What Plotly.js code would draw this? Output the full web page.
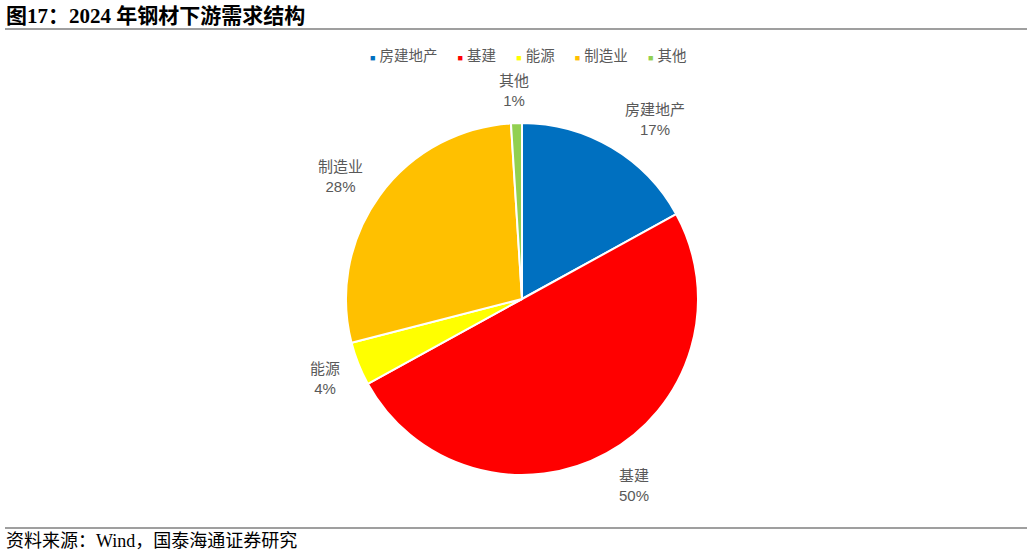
<!DOCTYPE html>
<html>
<head>
<meta charset="utf-8">
<script src="https://cdn.plot.ly/plotly-3.0.1.min.js"></script>
<style>html,body{margin:0;padding:0;background:#fff;}#chart{width:1032px;height:555px;}</style>
</head>
<body>
<div id="chart"></div>
<script>
const categories = ['房建地产', '基建', '能源', '制造业', '其他'];
const shares = [17, 50, 4, 28, 1];
const sliceColors = ['#0070C0', '#FF0000', '#FFFF00', '#FFC000', '#92D050'];
const chartTitle = '图17：2024 年钢材下游需求结构';
const sourceNote = '资料来源：Wind，国泰海通证券研究';

const W = 1032, H = 555;
const cx = 522, cy = 299, R = 176;

const total = shares.reduce((a, b) => a + b, 0);
const labelFont = {family: 'Liberation Sans, Noto Sans CJK SC, sans-serif', size: 15, color: '#595959'};
const clamp = v => Math.max(-1, Math.min(1, v));

// data label positions derived from each slice's mid-angle
const annotations = [];
let cum = 0;
shares.forEach((v, i) => {
  const mid = (cum + v / 2) / total * 2 * Math.PI;
  cum += v;
  const sx = Math.sin(mid), sy = -Math.cos(mid); // screen coords (y down)
  const w = categories[i].length * 16, h = 44;
  const px = cx + (R + 13) * sx, py = cy + (R + 13) * sy;
  const bx = px + clamp(3 * sx) * (w / 2 + 5);
  const by = py + sy * h / 2 + 2;
  annotations.push({
    xref: 'paper', yref: 'paper', x: bx / W, y: 1 - by / H,
    xanchor: 'center', yanchor: 'middle', showarrow: false,
    text: categories[i] + '<br>' + Math.round(v / total * 100) + '%',
    font: labelFont, align: 'center'
  });
});

// legend row
const legendText = categories.map((c, i) =>
  '<span style="color:' + sliceColors[i] + ';font-size:9px">■</span> ' + c).join('     ');
annotations.push({
  xref: 'paper', yref: 'paper', x: 528 / W, y: 1 - 56 / H, xanchor: 'center', yanchor: 'middle',
  showarrow: false, text: legendText,
  font: {family: 'Liberation Sans, Noto Sans CJK SC, sans-serif', size: 14.5, color: '#595959'}
});

annotations.push({
  xref: 'paper', yref: 'paper', x: 4 / W, y: 1 - 16 / H, xanchor: 'left', yanchor: 'middle',
  showarrow: false, text: '<b>' + chartTitle + '</b>',
  font: {family: 'Liberation Serif, Noto Sans CJK SC, serif', size: 21, color: '#000'}
});
annotations.push({
  xref: 'paper', yref: 'paper', x: 4 / W, y: 1 - 541 / H, xanchor: 'left', yanchor: 'middle',
  showarrow: false, text: sourceNote,
  font: {family: 'Liberation Serif, Noto Sans CJK SC, serif', size: 18, color: '#000'}
});

const trace = {
  type: 'pie',
  labels: categories,
  values: shares,
  sort: false,
  direction: 'clockwise',
  rotation: 0,
  textinfo: 'none',
  hoverinfo: 'label+percent',
  marker: {colors: sliceColors, line: {color: '#FFFFFF', width: 2}},
  domain: {x: [(cx - R) / W, (cx + R) / W], y: [1 - (cy + R) / H, 1 - (cy - R) / H]}
};

const layout = {
  width: W, height: H,
  margin: {l: 0, r: 0, t: 0, b: 0},
  paper_bgcolor: '#FFFFFF',
  showlegend: false,
  annotations: annotations,
  shapes: [
    {type: 'line', xref: 'paper', yref: 'paper', x0: 5 / W, x1: 1027 / W, y0: 1 - 29 / H, y1: 1 - 29 / H,
     line: {color: '#7F7F7F', width: 1.5}},
    {type: 'line', xref: 'paper', yref: 'paper', x0: 5 / W, x1: 1027 / W, y0: 1 - 528 / H, y1: 1 - 528 / H,
     line: {color: '#7F7F7F', width: 1.5}}
  ]
};

Plotly.newPlot('chart', [trace], layout, {displayModeBar: false, staticPlot: true});
</script>
</body>
</html>
